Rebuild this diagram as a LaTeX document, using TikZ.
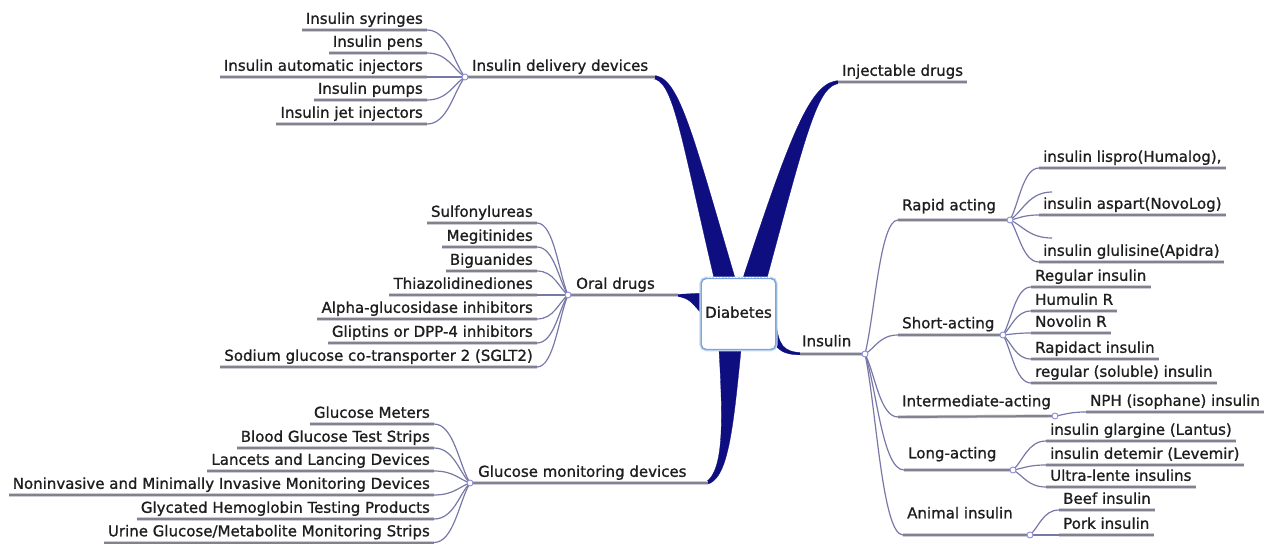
\documentclass[tikz,border=0pt]{standalone}
\usepackage{fontspec}
\setmainfont{DejaVu Sans}
\newfontfamily\mapfont{DejaVu Sans}[FakeBold=1.1]
\usetikzlibrary{calc}
\definecolor{navy}{RGB}{14,14,128}
\definecolor{ulgray}{RGB}{130,130,142}
\definecolor{ulhalo}{RGB}{205,205,215}
\definecolor{conncol}{RGB}{120,120,168}
\definecolor{hubcol}{RGB}{140,140,215}
\definecolor{txt}{RGB}{30,30,30}
\definecolor{boxblue}{RGB}{125,165,215}
\definecolor{boxlight}{RGB}{195,218,242}
\begin{document}
\begin{tikzpicture}[x=1pt,y=-1pt,
  lab/.style={font=\mapfont\fontsize{15}{18}\selectfont, text=txt, inner xsep=4pt, inner ysep=2.5pt, text height=11pt, text depth=3.5pt},
  leafL/.style={lab, anchor=south east},
  leafR/.style={lab, anchor=south west},
  uline/.style={draw=ulgray, line width=2pt, preaction={draw=ulhalo, line width=3.4pt}},
  conn/.style={draw=conncol, line width=1.2pt},
  fan/.style={to path={.. controls ($(\tikztostart)!0.55!(\tikztostart -| \tikztotarget)$) and ($(\tikztotarget)!0.3!(\tikztostart)$) .. (\tikztotarget)}},
  hubring/.style={draw=hubcol, fill=white, line width=0.9pt},
  branch/.style={fill=navy, draw=navy, line width=0.3pt},
  rootbox/.style={lab, draw=boxblue, line width=1.4pt, fill=white, rounded corners=5pt,
    minimum width=74pt, minimum height=71pt, preaction={draw=boxlight, line width=3.6pt}}
]
\useasboundingbox (0,0) rectangle (1282,545);

% hubs where the sub-branches meet
\coordinate (devhub) at (465,77);
\coordinate (oralhub) at (568,295);
\coordinate (gluhub) at (470,483);
\coordinate (ihub) at (865,354);
\coordinate (rhub) at (1010,220);
\coordinate (shub) at (1003,335);
\coordinate (mhub) at (1055,416);
\coordinate (lhub) at (1013,470);
\coordinate (ahub) at (1030,535);

% ends of the thick main branches
\coordinate (bDev) at (655,77);
\coordinate (bInj) at (838,82);
\coordinate (bOral) at (678,295);
\coordinate (bGlu) at (708,483);
\coordinate (bIns) at (800,354);

% thick tapered main branches
\fill[branch] (714,278) .. controls (679,128) and (673,80) .. (652,78.5)
  -- (652,75.5) .. controls (678,74) and (691,128) .. (735,278) -- cycle;
\fill[branch] (743,278) .. controls (793,126) and (812,80.5) .. (840,80.5)
  -- (840,83.5) .. controls (818,84) and (807,130) .. (767,278) -- cycle;
\fill[branch] (704,293) -- (704,315) .. controls (694,308) and (692,297) .. (676,296.5)
  -- (676,294.5) -- cycle;
\fill[branch] (719,350) .. controls (723,420) and (724,470) .. (706,482)
  -- (706,484.5) .. controls (728,481) and (733,430) .. (741,350) -- cycle;
\fill[branch] (776,320) .. controls (778,345) and (783,352) .. (802,352.6)
  -- (802,354.8) .. controls (778,355.5) and (771,345) .. (770,325) -- cycle;

% main topics
\node[leafR] (dev) at (468,77) {Insulin delivery devices};
\node[leafR] (inj) at (838,82) {Injectable drugs};
\node[leafR] (oral) at (572,295) {Oral drugs};
\node[leafR] (glu) at (474,483) {Glucose monitoring devices};
\node[leafR, inner ysep=4pt] (ins) at (798,354) {Insulin};
\draw[uline] (devhub) -- (bDev);
\draw[uline] (bInj) -- (inj.south east);
\draw[uline] (oralhub) -- (bOral);
\draw[uline] (gluhub) -- (bGlu);
\draw[uline] (bIns) -- (ihub);

% insulin delivery devices
\node[leafL] (d1) at (427,30) {Insulin syringes};
\node[leafL] (d2) at (427,53) {Insulin pens};
\node[leafL] (d3) at (427,77) {Insulin automatic injectors};
\node[leafL] (d4) at (427,100) {Insulin pumps};
\node[leafL] (d5) at (427,124) {Insulin jet injectors};
\foreach \n in {d1,d2,d3,d4,d5} {
  \draw[uline] (\n.south west) -- (\n.south east);
  \draw[conn] (\n.south east) to[fan] (devhub);
}

% oral drugs
\node[leafL] (o1) at (537,223) {Sulfonylureas};
\node[leafL] (o2) at (537,247) {Megitinides};
\node[leafL] (o3) at (537,271) {Biguanides};
\node[leafL] (o4) at (537,295) {Thiazolidinediones};
\node[leafL] (o5) at (537,319) {Alpha-glucosidase inhibitors};
\node[leafL] (o6) at (537,343) {Gliptins or DPP-4 inhibitors};
\node[leafL] (o7) at (537,367) {Sodium glucose co-transporter 2 (SGLT2)};
\foreach \n in {o1,o2,o3,o4,o5,o6,o7} {
  \draw[uline] (\n.south west) -- (\n.south east);
  \draw[conn] (\n.south east) to[fan] (oralhub);
}

% glucose monitoring devices
\node[leafL] (g1) at (434,424) {Glucose Meters};
\node[leafL] (g2) at (434,448) {Blood Glucose Test Strips};
\node[leafL] (g3) at (434,471) {Lancets and Lancing Devices};
\node[leafL] (g4) at (434,495) {Noninvasive and Minimally Invasive Monitoring Devices};
\node[leafL] (g5) at (434,519) {Glycated Hemoglobin Testing Products};
\node[leafL] (g6) at (434,542.5) {Urine Glucose/Metabolite Monitoring Strips};
\foreach \n in {g1,g2,g3,g4,g5,g6} {
  \draw[uline] (\n.south west) -- (\n.south east);
  \draw[conn] (\n.south east) to[fan] (gluhub);
}

% insulin types
\node[leafR, inner ysep=6pt] (rap) at (898,220) {Rapid acting};
\node[leafR, inner ysep=3pt] (sho) at (898,335) {Short-acting};
\node[leafR, inner ysep=7pt] (mid) at (898,417) {Intermediate-acting};
\node[leafR, inner ysep=8pt] (lon) at (904,470) {Long-acting};
\node[leafR, inner ysep=13pt] (ani) at (903,535) {Animal insulin};
\draw[uline] (rap.south west) -- (rhub);
\draw[uline] (sho.south west) -- (shub);
\draw[uline] (mid.south west) -- (mhub);
\draw[uline] (lon.south west) -- (lhub);
\draw[uline] (ani.south west) -- (ahub);
\foreach \n in {rap,sho,mid,lon,ani} {
  \draw[conn] (\n.south west) to[fan] (ihub);
}

% rapid acting
\node[leafR] (r1) at (1039,168) {insulin lispro(Humalog),};
\node[leafR] (r2) at (1039,215) {insulin aspart(NovoLog)};
\node[leafR] (r3) at (1039,262) {insulin glulisine(Apidra)};
\coordinate (rs1) at (1052,192);
\coordinate (rs2) at (1052,238);
\foreach \n in {r1,r2,r3} {
  \draw[uline] (\n.south west) -- (\n.south east);
  \draw[conn] (\n.south west) to[fan] (rhub);
}
\draw[conn] (rs1) to[fan] (rhub);
\draw[conn] (rs2) to[fan] (rhub);

% short-acting
\node[leafR] (s1) at (1031,287) {Regular insulin};
\node[leafR] (s2) at (1031,311) {Humulin R};
\node[leafR] (s3) at (1031,333) {Novolin R};
\node[leafR] (s4) at (1031,359) {Rapidact insulin};
\node[leafR] (s5) at (1031,383) {regular (soluble) insulin};
\foreach \n in {s1,s2,s3,s4,s5} {
  \draw[uline] (\n.south west) -- (\n.south east);
  \draw[conn] (\n.south west) to[fan] (shub);
}

% intermediate-acting
\node[leafR] (m1) at (1086,412) {NPH (isophane) insulin};
\draw[uline] (m1.south west) -- (m1.south east);
\draw[conn] (m1.south west) to[fan] (mhub);

% long-acting
\node[leafR] (l1) at (1046,441) {insulin glargine (Lantus)};
\node[leafR] (l2) at (1046,465) {insulin detemir (Levemir)};
\node[leafR] (l3) at (1046,487) {Ultra-lente insulins};
\foreach \n in {l1,l2,l3} {
  \draw[uline] (\n.south west) -- (\n.south east);
  \draw[conn] (\n.south west) to[fan] (lhub);
}

% animal insulin
\node[leafR] (a1) at (1059,510) {Beef insulin};
\node[leafR] (a2) at (1059,535) {Pork insulin};
\foreach \n in {a1,a2} {
  \draw[uline] (\n.south west) -- (\n.south east);
  \draw[conn] (\n.south west) to[fan] (ahub);
}

% central topic
\node[rootbox] (dia) at (738.5,314) {Diabetes};
\draw[white, line width=1.2pt, dash pattern=on 1.6pt off 1.6pt]
  ($(dia.north west)+(7,0)$) -- ($(dia.north east)+(-7,0)$);

% hub rings
\foreach \h in {devhub,oralhub,gluhub,ihub,rhub,shub,mhub,lhub,ahub}
  \draw[hubring] (\h) circle (3pt);
\end{tikzpicture}
\end{document}
